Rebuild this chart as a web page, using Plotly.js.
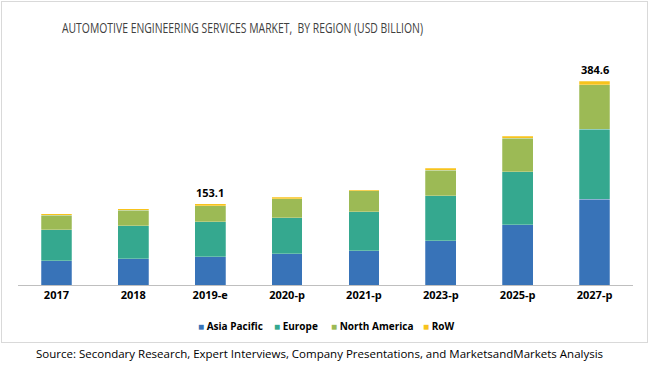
<!DOCTYPE html>
<html>
<head>
<meta charset="utf-8">
<script src="https://cdn.plot.ly/plotly-3.0.1.min.js"></script>
<style>
  html, body { margin: 0; padding: 0; background: #fff; }
  #wrap { position: relative; width: 650px; height: 366px; }
  #chart { width: 650px; height: 366px; }
  #frame { position: absolute; left: 1px; top: 1px; width: 645px; height: 340px; border: 1px solid #d9d9d9; pointer-events: none; }
</style>
</head>
<body>
<div id="wrap">
  <div id="chart"></div>
  <div id="frame"></div>
</div>
<script>
const years = ['2017', '2018', '2019-e', '2020-p', '2021-p', '2023-p', '2025-p', '2027-p'];
const asiaPacific = [45.9, 49.1, 53.4, 59.1, 64.7, 83.6, 113.8, 161.5];
const europe      = [58.5, 62.3, 65.5, 67.9, 73.6, 84.9, 100.0, 132.0];
const northAmerica= [27.7, 29.6, 30.8, 35.9, 39.1, 47.9, 63.0, 84.1];
const row         = [1.9, 2.5, 3.4, 2.6, 2.5, 4.3, 4.3, 7.0];
const totalLabels = ['', '', '153.1', '', '', '', '', '384.6'];

const seriesNames = ['Asia Pacific', 'Europe', 'North America', 'RoW'];
const seriesValues = [asiaPacific, europe, northAmerica, row];
const colors = ['#3873b8', '#35a88f', '#9cba55', '#f7c31d'];

const traces = seriesValues.map((vals, i) => ({
  type: 'bar',
  name: seriesNames[i],
  x: years,
  y: vals,
  marker: { color: colors[i], line: { color: 'rgba(255,255,255,0.5)', width: 0.5 } },
  showlegend: false,
  hoverinfo: 'x+y+name'
}));

const totals = years.map((_, j) => seriesValues.reduce((s, v) => s + v[j], 0));
const annotations = [];
years.forEach((yr, j) => {
  if (totalLabels[j]) {
    annotations.push({
      x: yr, y: totals[j], xref: 'x', yref: 'y',
      text: '<b>' + totalLabels[j] + '</b>', showarrow: false,
      yanchor: 'bottom', yshift: 2,
      font: { family: 'Open Sans, sans-serif', size: 11, color: '#000' }
    });
  }
});

// legend entries (custom, compact like the original)
const legendLeftPx = [196, 272, 329, 421];
const plotL = 18, plotW = 615;
seriesNames.forEach((name, i) => {
  annotations.push({
    xref: 'paper', yref: 'paper',
    x: (legendLeftPx[i] - plotL) / plotW, y: -0.181,
    xanchor: 'left', yanchor: 'middle', showarrow: false,
    text: '<span style="color:' + colors[i] + '">■</span> <b>' + name + '</b>',
    font: { family: 'Open Sans, sans-serif', size: 10, color: '#000' }
  });
});

annotations.push({
  xref: 'paper', yref: 'paper', x: 0.49, y: -0.305, xanchor: 'center', yanchor: 'middle',
  text: 'Source: Secondary Research, Expert Interviews, Company Presentations, and MarketsandMarkets Analysis',
  showarrow: false,
  font: { family: 'Open Sans, sans-serif', size: 11.5, color: '#000' }
});

const layout = {
  width: 650, height: 366,
  margin: { l: 18, r: 17, t: 60, b: 81 },
  paper_bgcolor: '#fff', plot_bgcolor: '#fff',
  barmode: 'stack',
  bargap: 0.6,
  title: {
    text: 'AUTOMOTIVE ENGINEERING SERVICES MARKET,  BY REGION (USD BILLION)',
    x: 0.0715, xanchor: 'left', xref: 'paper', y: 0.922, yanchor: 'middle',
    font: { family: 'Open Sans, sans-serif', size: 14, color: '#404040' }
  },
  xaxis: {
    type: 'category',
    showline: true, linecolor: '#bfbfbf', linewidth: 1,
    ticks: '', showgrid: false,
    tickfont: { family: 'Open Sans, sans-serif', size: 11, color: '#000', weight: 'bold' }
  },
  yaxis: {
    range: [0, 424.6], visible: false, showgrid: false, zeroline: false
  },
  showlegend: false,
  annotations: annotations
};

Plotly.newPlot('chart', traces, layout, { displayModeBar: false, staticPlot: true }).then(() => {
  // condense the title to mimic the narrow font of the original
  const t = document.querySelector('#chart .gtitle');
  if (t) {
    t.setAttribute('textLength', '361');
    t.setAttribute('lengthAdjust', 'spacingAndGlyphs');
  }
});
</script>
</body>
</html>
